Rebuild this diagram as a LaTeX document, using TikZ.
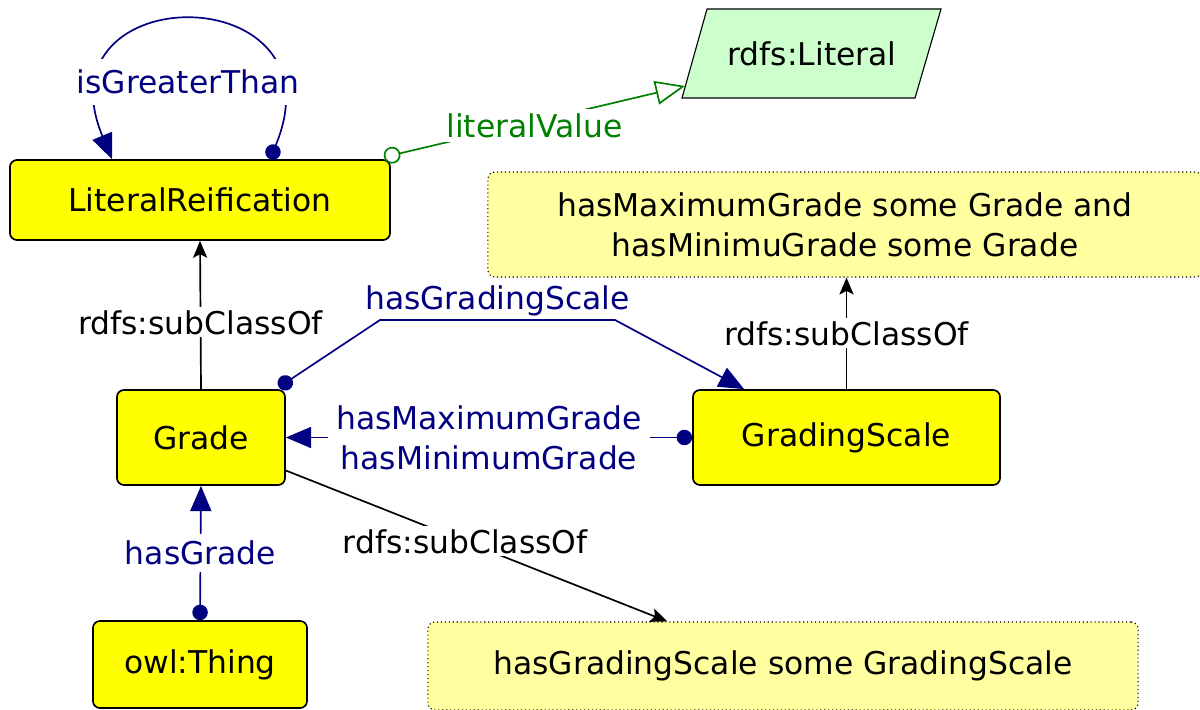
\documentclass[tikz,border=0pt]{standalone}
\usepackage{fontspec}
\setmainfont{DejaVu Sans}
\usetikzlibrary{arrows.meta,calc}

\definecolor{propblue}{RGB}{0,0,128}
\definecolor{litgreen}{RGB}{0,128,0}
\definecolor{classyellow}{RGB}{255,255,0}
\definecolor{noteyellow}{RGB}{255,255,160}
\definecolor{literalfill}{RGB}{204,255,204}

\begin{document}
\begin{tikzpicture}[
    x=0.025cm, y=-0.025cm,
    font=\fontsize{22.3}{28.5}\selectfont,
    owlclass/.style={draw, very thick, fill=classyellow, rounded corners=5pt, inner sep=0pt},
    owlnote/.style={draw, thick, dotted, fill=noteyellow, rounded corners=5pt, inner sep=0pt, align=center},
    objprop/.style={propblue, very thick, {Circle[length=11pt]}-{Triangle[length=18pt, width=15pt]}},
    dataprop/.style={litgreen, very thick, {Circle[open, length=12pt, fill=none]}-{Triangle[open, length=21pt, width=17pt, fill=white]}},
    subclass/.style={black, very thick, -{Stealth[length=12pt, width=10pt, inset=2.5pt]}},
    proplabel/.style={fill=white, inner sep=2pt, text=propblue},
    sublabel/.style={fill=white, inner sep=2pt, text=black}
]
    \useasboundingbox (0,0) rectangle (1200,709);

    % Classes
    \node[owlclass, minimum width=9.5cm, minimum height=2cm] (litreif) at (200,200) {LiteralReification};
    \node[owlclass, minimum width=4.2cm, minimum height=2.375cm] (grade) at (201,437.5) {Grade};
    \node[owlclass, minimum width=7.675cm, minimum height=2.375cm] (scale) at (846.5,437.5) {GradingScale};
    \node[owlclass, minimum width=5.35cm, minimum height=2.175cm] (thing) at (200,664.5) {owl:Thing};

    % Literal
    \filldraw[thick, fill=literalfill] (707,9) -- (941,9) -- (915,98) -- (682,98) -- cycle;
    \node (literal) at (812,54) {rdfs:Literal};
    \coordinate (littip) at (685,86);

    % Restrictions
    \node[owlnote, minimum width=17.85cm, minimum height=2.625cm] (maxmin) at (845,224.5) {hasMaximumGrade some Grade and\\hasMinimuGrade some Grade};
    \node[owlnote, minimum width=17.75cm, minimum height=2.2cm] (somescale) at (783,666) {hasGradingScale some GradingScale};

    % Self loop
    \draw[objprop] ($(litreif.north)+(70,0)$) .. controls (346,-24) and (36,-24) .. ($(litreif.north)+(-88,0)$);
    \node[proplabel, inner xsep=2pt, inner ysep=8pt] (gtlabel) at (188,82) {isGreaterThan};

    % Literal value
    \draw[dataprop] ($(litreif.north east)+(-7,-2)$) -- (littip)
        node[pos=0.5, fill=white, inner sep=3pt, text=litgreen, yshift=-3pt] {literalValue};

    % Subclass links
    \draw[subclass] (grade.north) -- (litreif.south)
        node[sublabel, pos=0.45] {rdfs:subClassOf};
    \draw[subclass] (scale.north) -- (maxmin.south -| scale.north)
        node[sublabel, midway] {rdfs:subClassOf};
    \draw[subclass] ($(grade.east)+(0,33)$) -- ($(somescale.north west)+(240,0)$)
        node[sublabel, pos=0.47] {rdfs:subClassOf};

    % Object properties
    \draw[objprop] ($(grade.north east)+(-7,-2)$) -- (380,320) -- (615,320)
        node[midway, above=-1pt, text=propblue] {hasGradingScale}
        -- ($(scale.north west)+(52,0)$);
    \draw[objprop] (scale.west) -- (grade.east)
        node[proplabel, midway, align=center, inner xsep=6pt] {hasMaximumGrade\\hasMinimumGrade};
    \draw[objprop] (thing.north) -- (grade.south)
        node[proplabel, midway, inner sep=5pt] {hasGrade};
\end{tikzpicture}
\end{document}
